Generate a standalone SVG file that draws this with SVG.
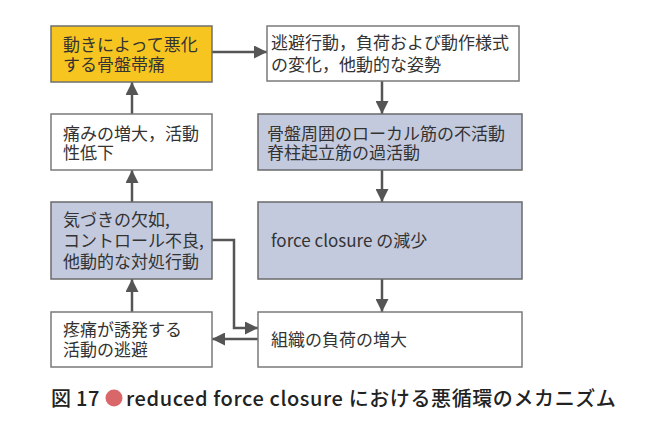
<svg xmlns="http://www.w3.org/2000/svg" width="650" height="443" viewBox="0 0 650 443">
<style>
.box{stroke:#7a7a7a;stroke-width:1.5}
.w{fill:#ffffff}
.y{fill:#f7c520;stroke:#6f6f6f}
.b{fill:#c3cade;stroke:#6a6a6a}
.t{font-family:"Noto Sans CJK JP","Noto Sans",sans-serif;font-size:17px;fill:#333333}
.c{font-family:"Noto Sans CJK JP","Noto Sans",sans-serif;font-size:20px;fill:#222222;font-weight:500;letter-spacing:0.6px}
.ln{fill:none;stroke:#555555;stroke-width:2.5}
</style>
<defs>
<marker id="ah" markerUnits="userSpaceOnUse" markerWidth="13" markerHeight="13" viewBox="0 0 13 13" refX="13" refY="6.5" orient="auto">
<path d="M0,0 L13,6.5 L0,13 z" fill="#555555"/>
</marker>
</defs>
<rect width="650" height="443" fill="#ffffff"/>
<g id="connectors">
<line class="ln" x1="212" y1="52" x2="267" y2="52" marker-end="url(#ah)"/>
<line class="ln" x1="382" y1="81" x2="382" y2="114" marker-end="url(#ah)"/>
<line class="ln" x1="382" y1="170" x2="382" y2="202" marker-end="url(#ah)"/>
<line class="ln" x1="382" y1="279" x2="382" y2="312" marker-end="url(#ah)"/>
<line class="ln" x1="258" y1="339" x2="212" y2="339" marker-end="url(#ah)"/>
<line class="ln" x1="132" y1="312" x2="132" y2="279" marker-end="url(#ah)"/>
<line class="ln" x1="132" y1="202" x2="132" y2="170" marker-end="url(#ah)"/>
<line class="ln" x1="132" y1="114" x2="132" y2="82" marker-end="url(#ah)"/>
<polyline class="ln" points="212,240 234,240 234,328 258,328" marker-end="url(#ah)"/>
</g>
<g id="n1">
<rect class="box y" x="51" y="26" width="161" height="56"/>
<text class="t" x="63" y="51">動きによって悪化</text>
<text class="t" x="63" y="71">する骨盤帯痛</text>
</g>
<g id="n2">
<rect class="box w" x="267" y="26" width="252" height="55"/>
<text class="t" x="271" y="49">逃避行動，負荷および動作様式</text>
<text class="t" x="271" y="71">の変化，他動的な姿勢</text>
</g>
<g id="n3">
<rect class="box b" x="258" y="114" width="264" height="56"/>
<text class="t" x="267" y="140">骨盤周囲のローカル筋の不活動</text>
<text class="t" x="267" y="159">脊柱起立筋の過活動</text>
</g>
<g id="n4">
<rect class="box b" x="258" y="202" width="264" height="77"/>
<text class="t" x="271" y="247">force closure の減少</text>
</g>
<g id="n5">
<rect class="box w" x="258" y="312" width="264" height="55"/>
<text class="t" x="271" y="346">組織の負荷の増大</text>
</g>
<g id="n6">
<rect class="box w" x="51" y="312" width="161" height="55"/>
<text class="t" x="63" y="336">疼痛が誘発する</text>
<text class="t" x="63" y="356">活動の逃避</text>
</g>
<g id="n7">
<rect class="box b" x="51" y="202" width="161" height="77"/>
<text class="t" x="63" y="226">気づきの欠如,</text>
<text class="t" x="63" y="247">コントロール不良,</text>
<text class="t" x="63" y="268">他動的な対処行動</text>
</g>
<g id="n8">
<rect class="box w" x="51" y="114" width="161" height="56"/>
<text class="t" x="63" y="140">痛みの増大，活動</text>
<text class="t" x="63" y="159">性低下</text>
</g>
<g id="caption">
<text class="c" x="51" y="406">図</text>
<text class="c" x="76" y="406">17</text>
<circle cx="114" cy="398" r="8.5" fill="#d9676a"/>
<text class="c" x="126" y="406">reduced force closure における悪循環のメカニズム</text>
</g>
</svg>
